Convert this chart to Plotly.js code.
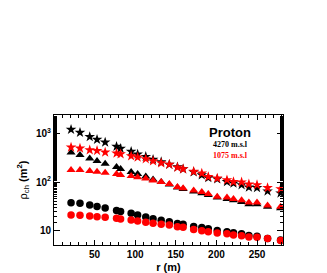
<!DOCTYPE html>
<html><head><meta charset="utf-8">
<script src="https://cdn.plot.ly/plotly-3.0.1.min.js"></script>
<style>html,body{margin:0;padding:0;background:#fff;}#chart{width:327px;height:273px;}</style>
</head><body><div id="chart"></div>
<script>
const r = [21,32,44,53,63,77,82,95,103,113,122,132,142,152,159,172,182,190,201,213,221,231,240,250,263,279];
const starHigh = [1197,1038,847,746,653,536,488,423,371,331,290,258,229,203,185,160,139,122,115,101,94,87,78,76,65,59];
const starLow  = [516,492,454,439,407,388,376,342,321,297,270,245,229,199,185,164,151,128,119,110,101,99,90,87,76,72];
const triHigh  = [403,358,304,270,238,203,185,160,146,130,112,100,89,77,72,64,59,54,48,45,42,39,35,35,31,29];
const triLow   = [176,176,168,163,155,146,139,133,125,118,107,100,91,79,74,67,62,57,50,48,45,42,38,38,33,31];
const cirHigh  = [37.6,36.5,33.7,31.4,29.2,26.0,24.8,22.8,21.0,19.1,17.6,16.4,15.3,14.1,13.6,12.2,11.6,10.9,10.1,9.5,9.1,8.6,8.0,7.7,6.9,6.4];
const cirLow   = [21.0,20.7,20.0,19.4,18.8,18.0,17.4,16.6,15.8,14.9,14.2,13.6,13.1,12.1,11.7,10.6,10.0,9.5,9.0,8.6,8.2,7.9,7.4,7.3,6.9,6.3];
const xTicks = [50,100,150,200,250];
const yTicks = [10,100,1000];
const yTickText = ['10','10<sup>2</sup>','10<sup>3</sup>'];

function tr(y, color, symbol, size){
  return {x:r, y:y, type:'scatter', mode:'markers', showlegend:false,
    marker:{symbol:symbol, color:color, size:size, line:{width:0}}};
}
const data = [
  tr(starHigh,'#000','star',8),
  tr(triHigh,'#000','triangle-up',8),
  tr(cirHigh,'#000','circle',7.5),
  tr(starLow,'#ff0000','star',8),
  tr(triLow,'#ff0000','triangle-up',8),
  tr(cirLow,'#ff0000','circle',7.5)
];
const tickFont = {family:'Liberation Sans, Arial, sans-serif', size:10, color:'#000', weight:'bold'};
const layout = {
  width:327, height:273,
  margin:{l:54, r:44, t:115, b:28, pad:0},
  paper_bgcolor:'#fff', plot_bgcolor:'#fff',
  xaxis:{range:[0,282], tickvals:xTicks, ticks:'inside', ticklen:5, tickcolor:'#000',
    showline:true, linecolor:'#000', linewidth:1, mirror:'allticks', showgrid:false, zeroline:false,
    tickfont:tickFont,
    minor:{dtick:10, tick0:0, ticks:'inside', ticklen:3, tickcolor:'#000', showgrid:false},
    title:{text:'r (m)', font:{family:'Liberation Sans, Arial, sans-serif', size:11, color:'#000', weight:'bold'}, standoff:4}},
  yaxis:{type:'log', range:[0.706,3.376], tickvals:yTicks, ticktext:yTickText, ticks:'inside', ticklen:6, tickcolor:'#000',
    showline:true, linecolor:'#000', linewidth:1, mirror:'allticks', showgrid:false, zeroline:false,
    tickfont:tickFont,
    minor:{ticks:'inside', ticklen:3, tickcolor:'#000', showgrid:false},
    title:{text:'ρ<sub>ch</sub> <b>(m<sup>2</sup>)</b>', font:{family:'Liberation Sans, Arial, sans-serif', size:11, color:'#000'}, standoff:6}},
  annotations:[
    {xref:'paper', yref:'paper', x:0.77, y:0.865, xanchor:'center', yanchor:'middle', showarrow:false,
     text:'Proton', font:{family:'Liberation Sans, Arial, sans-serif', size:13, color:'#000', weight:'bold'}},
    {xref:'paper', yref:'paper', x:0.77, y:0.77, xanchor:'center', yanchor:'middle', showarrow:false,
     text:'4270 m.s.l', font:{family:'Liberation Serif, serif', size:8, color:'#000', weight:'bold'}},
    {xref:'paper', yref:'paper', x:0.77, y:0.69, xanchor:'center', yanchor:'middle', showarrow:false,
     text:'1075 m.s.l', font:{family:'Liberation Serif, serif', size:8, color:'#ff0000', weight:'bold'}}
  ]
};
Plotly.newPlot('chart', data, layout, {staticPlot:true, displayModeBar:false});
</script></body></html>
